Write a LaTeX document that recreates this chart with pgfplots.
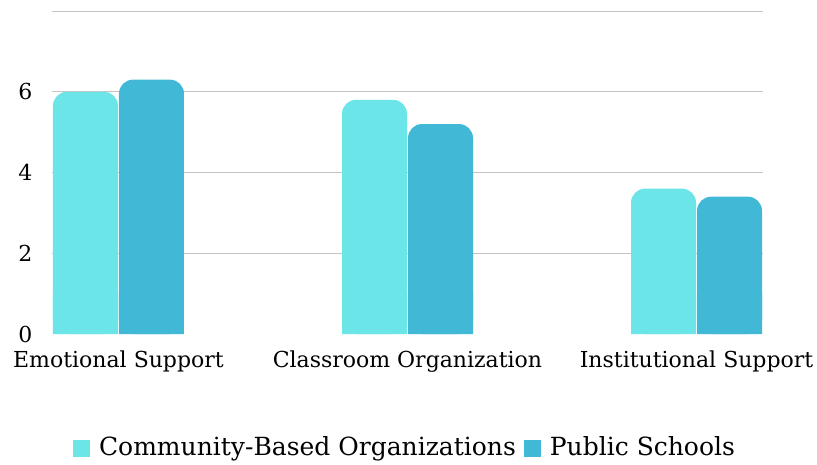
\documentclass[border=0pt]{standalone}
\usepackage{fontspec}
\setmainfont{DejaVu Serif}
\usepackage{pgfplots}
\pgfplotsset{compat=1.18}
\definecolor{cbo}{RGB}{107,229,232}
\definecolor{pubs}{RGB}{65,184,213}
\definecolor{gridc}{RGB}{196,196,196}
\begin{document}
\fontsize{22bp}{26bp}\selectfont
\begin{tikzpicture}
\useasboundingbox (-52bp,-131bp) rectangle (765bp,334bp);
\begin{axis}[
  at={(0,0)}, anchor=south west,
  scale only axis, width=711bp, height=323bp,
  xmin=-0.23, xmax=2.23, ymin=0, ymax=8,
  axis line style={draw=none},
  major tick length=0pt,
  ytick={2,4,6,8}, yticklabels={2,4,6,{}},
  extra y ticks={0}, extra y tick labels={0},
  extra y tick style={grid=none},
  ymajorgrids, grid style={gridc, line width=1bp},
  xtick={0,1,2},
  xticklabels={Emotional Support, Classroom Organization, Institutional Support},
  xticklabel style={yshift=-9bp},
  yticklabel style={xshift=-12bp},
  /pgf/number format/assume math mode=true,
  ybar, bar width=65bp,
  clip=false,
  legend style={at={(0.4965,-0.353)}, anchor=center, draw=none, fill=none,
    legend columns=2,
    /tikz/every odd column/.append style={column sep=7bp},
    /tikz/every even column/.append style={column sep=6bp},
    font=\fontsize{25bp}{29bp}\selectfont},
  legend image code/.code={\fill[#1, sharp corners] (0bp,-8.5bp) rectangle (17bp,8.5bp);},
]
\addplot[fill=cbo, draw=none, bar shift=-33bp, rounded corners=14bp]
  coordinates {(0,6.0) (1,5.8) (2,3.6)};
\addlegendentry{Community-Based Organizations}
\addplot[fill=pubs, draw=none, bar shift=33bp, rounded corners=14bp]
  coordinates {(0,6.3) (1,5.2) (2,3.4)};
\addlegendentry{Public Schools}
\addplot[fill=cbo, draw=none, bar shift=-33bp, forget plot]
  coordinates {(0,1) (1,1) (2,1)};
\addplot[fill=pubs, draw=none, bar shift=33bp, forget plot]
  coordinates {(0,1) (1,1) (2,1)};
\end{axis}
\end{tikzpicture}
\end{document}
